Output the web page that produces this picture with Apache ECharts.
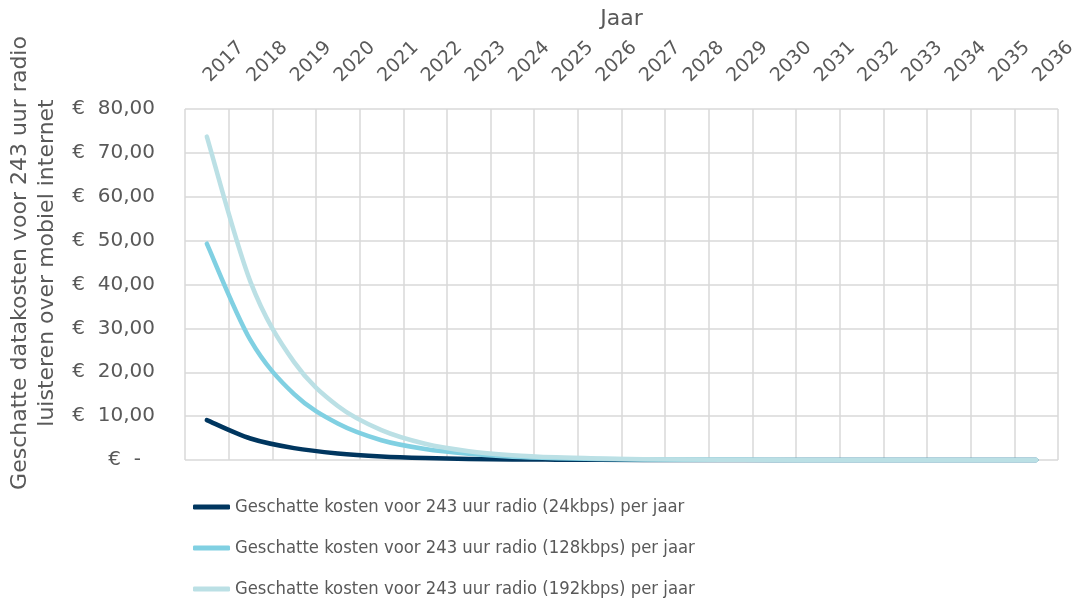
<!DOCTYPE html>
<html>
<head>
<meta charset="utf-8">
<script src="https://cdn.jsdelivr.net/npm/echarts@6/dist/echarts.min.js"></script>
<style>
html,body{margin:0;padding:0;background:#fff;}
#chart{width:1086px;height:605px;}
</style>
</head>
<body>
<div id="chart"></div>
<script>
const years = ['2017','2018','2019','2020','2021','2022','2023','2024','2025','2026','2027','2028','2029','2030','2031','2032','2033','2034','2035','2036'];
const seriesNames = [
  'Geschatte kosten voor 243 uur radio (24kbps) per jaar',
  'Geschatte kosten voor 243 uur radio (128kbps) per jaar',
  'Geschatte kosten voor 243 uur radio (192kbps) per jaar'
];
const cost24 = [9.1, 4.9, 2.7, 1.5, 0.82, 0.45, 0.25, 0.14, 0.08, 0.04, 0.025, 0.014, 0.008, 0.004, 0.002, 0.001, 0.001, 0, 0, 0];
const cost128 = [49.3, 27.3, 15.0, 8.3, 4.5, 2.5, 1.4, 0.75, 0.41, 0.23, 0.13, 0.07, 0.04, 0.02, 0.012, 0.007, 0.004, 0.002, 0.001, 0.001];
const cost192 = [73.7, 40.6, 22.3, 12.3, 6.8, 3.7, 2.0, 1.1, 0.6, 0.34, 0.19, 0.1, 0.06, 0.03, 0.018, 0.01, 0.006, 0.003, 0.002, 0.001];
const yTicks = [0, 10, 20, 30, 40, 50, 60, 70, 80];
const colors = ['#00365f', '#80d0e2', '#bbe0e5'];

const FONT = 'DejaVu Sans';
const LEGEND_FONT = '"DejaVu Sans Condensed", "Liberation Sans", sans-serif';
const GREY = '#595959';

const chart = echarts.init(document.getElementById('chart'), null, {renderer: 'canvas'});
const dataSets = [cost24, cost128, cost192];

// Smooth curve through the data points (Catmull-Rom style tangents, like the original spreadsheet chart)
function makeRender(values, color) {
  return function (params, api) {
    if (params.dataIndex !== 0) return null;
    const pts = values.map(function (v, i) { return api.coord([i, v]); });
    let d = 'M' + pts[0][0] + ' ' + pts[0][1];
    for (let i = 0; i < pts.length - 1; i++) {
      const p0 = pts[Math.max(i - 1, 0)], p1 = pts[i], p2 = pts[i + 1], p3 = pts[Math.min(i + 2, pts.length - 1)];
      const c1x = p1[0] + (p2[0] - p0[0]) / 6, c1y = p1[1] + (p2[1] - p0[1]) / 6;
      const c2x = p2[0] - (p3[0] - p1[0]) / 6, c2y = p2[1] - (p3[1] - p1[1]) / 6;
      d += ' C' + c1x + ' ' + c1y + ' ' + c2x + ' ' + c2y + ' ' + p2[0] + ' ' + p2[1];
    }
    return {
      type: 'path',
      shape: {pathData: d},
      style: {fill: 'none', stroke: color, lineWidth: 4.5, lineCap: 'round', lineJoin: 'round'}
    };
  };
}

const legendTops = [496, 537, 578];

chart.setOption({
  animation: false,
  backgroundColor: '#ffffff',
  grid: {left: 185, right: 28, top: 109, bottom: 145, containLabel: false},
  legend: seriesNames.map(function (name, i) {
    return {
      orient: 'vertical',
      left: 193,
      top: legendTops[i],
      padding: 0,
      icon: 'roundRect',
      itemWidth: 37,
      itemHeight: 5,
      data: [name],
      textStyle: {fontFamily: LEGEND_FONT, fontSize: 18.3, color: GREY, lineHeight: 22}
    };
  }),
  xAxis: {
    type: 'category',
    position: 'top',
    data: years,
    boundaryGap: true,
    name: 'Jaar',
    nameLocation: 'middle',
    nameGap: 79,
    nameTextStyle: {fontFamily: FONT, fontSize: 22, color: GREY},
    axisLine: {show: false},
    axisTick: {show: false},
    axisLabel: {rotate: 45, margin: 30, fontFamily: FONT, fontSize: 19, color: GREY, interval: 0},
    splitLine: {show: true, lineStyle: {color: '#d9d9d9', width: 1.5}}
  },
  yAxis: {
    type: 'value',
    min: yTicks[0],
    max: yTicks[yTicks.length - 1],
    interval: 10,
    axisLine: {show: false},
    axisTick: {show: false},
    axisLabel: {
      margin: 20,
      fontFamily: FONT,
      fontSize: 20,
      color: GREY,
      formatter: function (v) {
        if (v === 0) return '{z|€  -}';
        return '{n|€  ' + v.toFixed(2).replace('.', ',') + '}';
      },
      rich: {
        z: {fontFamily: FONT, fontSize: 20, color: GREY, padding: [0, 24, 0, 0]},
        n: {fontFamily: FONT, fontSize: 20, color: GREY, padding: [0, 10, 0, 0]}
      }
    },
    splitLine: {show: true, lineStyle: {color: '#d9d9d9', width: 1.5}}
  },
  graphic: [{
    type: 'text',
    x: 34,
    y: 263,
    rotation: Math.PI / 2,
    style: {
      text: 'Geschatte datakosten voor 243 uur radio\nluisteren over mobiel internet',
      font: '22px "DejaVu Sans"',
      fill: GREY,
      align: 'center',
      verticalAlign: 'middle',
      lineHeight: 27
    }
  }],
  series: seriesNames.map(function (name, i) {
    return {
      name: name,
      type: 'custom',
      data: dataSets[i].map(function (v, j) { return [j, v]; }),
      encode: {x: 0, y: 1},
      renderItem: makeRender(dataSets[i], colors[i]),
      itemStyle: {color: colors[i]},
      color: colors[i],
      z: 2 + i
    };
  })
});
</script>
</body>
</html>
